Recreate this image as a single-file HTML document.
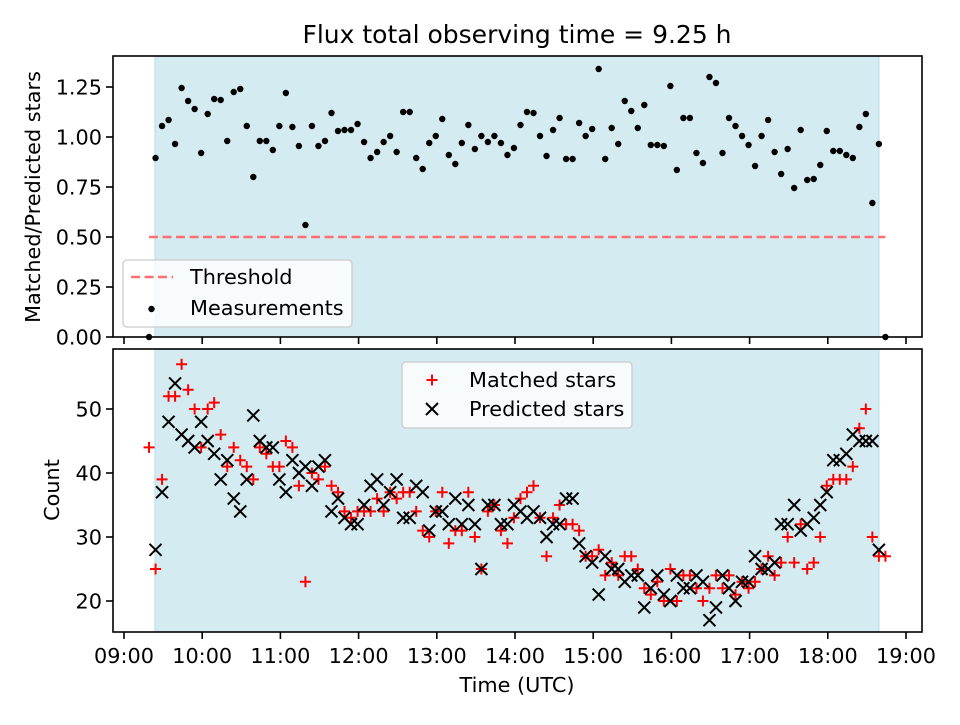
<!DOCTYPE html>
<html><head><meta charset="utf-8"><style>
html,body{margin:0;padding:0;background:#fff}
svg text{font-family:"DejaVu Sans","Liberation Sans",sans-serif;fill:#000}
</style></head><body>
<svg id="chart" width="960" height="720" viewBox="0 0 960 720" xmlns="http://www.w3.org/2000/svg">
<rect width="960" height="720" fill="#fff"/>
<text x="517" y="43" font-size="25" text-anchor="middle">Flux total observing time = 9.25 h</text>
<g id="top"></g>
<g id="bot"></g>
<text transform="translate(40,197) rotate(-90)" font-size="20.8" text-anchor="middle">Matched/Predicted stars</text>
<text transform="translate(59,490) rotate(-90)" font-size="20.8" text-anchor="middle">Count</text>
<text x="517" y="692" font-size="20.8" text-anchor="middle">Time (UTC)</text>
</svg>
<script>
const startHour = 9.32;
const stepHours = 5/60;
const shadeRange = [9.396, 18.655];
const thresholdValue = 0.5;
const xTickLabels = ["09:00","10:00","11:00","12:00","13:00","14:00","15:00","16:00","17:00","18:00","19:00"];
const ratioTicks = [0,0.25,0.5,0.75,1.0,1.25];
const countTicks = [20,30,40,50];
const ratio = [0,0.895,1.055,1.085,0.965,1.245,1.18,1.14,0.92,1.115,1.19,1.185,0.98,1.225,1.24,1.055,0.80,0.98,0.98,0.935,1.055,1.22,1.05,0.955,0.56,1.055,0.955,0.98,1.12,1.03,1.035,1.035,1.065,0.975,0.895,0.925,0.975,1.005,0.925,1.125,1.125,0.895,0.84,0.97,1.005,1.09,0.91,0.865,0.97,1.06,0.94,1.005,0.975,1.005,0.97,0.91,0.945,1.06,1.125,1.12,1.005,0.905,1.035,1.095,0.89,0.89,1.07,1.005,1.04,1.34,0.89,1.045,0.965,1.18,1.13,1.045,1.16,0.96,0.96,0.955,1.255,0.835,1.095,1.095,0.92,0.87,1.30,1.27,0.92,1.095,1.055,1.005,0.96,0.855,1.005,1.085,0.925,0.815,0.94,0.745,1.035,0.785,0.79,0.86,1.03,0.93,0.93,0.91,0.895,1.05,1.115,0.67,0.965,0];
const predicted = [0,28,37,48,54,46,45,44,48,45,43,39,42,36,34,39,49,45,44,44,39,37,42,40,41,38,41,42,34,36,33,32,32,35,38,39,35,37,39,33,33,38,37,31,34,34,32,36,32,35,32,25,35,35,32,32,35,34,33,34,33,30,32,32,36,36,29,27,26,21,27,25,25,23,24,24,19,22,24,21,20,24,22,22,24,23,17,19,24,22,20,23,23,27,25,25,26,32,32,35,31,32,33,35,37,42,42,43,46,45,45,45,28,0];
const matched = [44,25,39,52,52,57,53,50,44,50,51,46,41,44,42,41,39,44,43,41,41,45,44,38,23,40,39,41,38,37,34,33,34,34,34,36,34,37,36,37,37,34,31,30,34,37,29,31,31,37,30,25,34,35,31,29,33,36,37,38,33,27,33,35,32,32,31,27,27,28,24,26,24,27,27,25,22,21,23,20,25,20,24,24,22,20,22,24,22,24,21,23,22,23,25,27,24,26,30,26,32,25,26,30,38,39,39,39,41,47,50,30,27,27];

const NS="http://www.w3.org/2000/svg";
const L=113,R=922;
const FS='20.8';
const x=h=>124+(h-9)*78.2;
const yTop=v=>337-v*200;
const yBot=v=>601-(v-20)*6.4;
const tOf=i=>startHour+i*stepHours;
function mk(tag,attrs,parent){const e=document.createElementNS(NS,tag);for(const k in attrs)e.setAttribute(k,attrs[k]);parent.appendChild(e);return e;}

function panel(g,top,bot,yf,ticks,fmt,showX,name){
  const cid='clip-'+name;
  const cp=mk('clipPath',{id:cid},g);mk('rect',{x:L,y:top,width:R-L,height:bot-top},cp);
  const sh=mk('rect',{x:x(shadeRange[0]),y:top,width:x(shadeRange[1])-x(shadeRange[0]),height:bot-top,fill:'#d4ebf1',stroke:'#b8dce8','stroke-width':1},g);
  
  
  ticks.forEach(v=>{
    const yy=yf(v);
    const t=mk('line',{x1:L-7,x2:L,y1:yy,y2:yy,stroke:'#000','stroke-width':1.6},g);
    
    
    const tx=mk('text',{x:L-11,y:yy+7.5,'font-size':FS,'text-anchor':'end'},g);
    tx.textContent=fmt(v);
    
    
  });
  xTickLabels.forEach((lab,i)=>{
    const xx=x(9+i);
    const t=mk('line',{x1:xx,x2:xx,y1:bot,y2:bot+7,stroke:'#000','stroke-width':1.6},g);
    
    
    if(showX){
      const tx=mk('text',{x:xx,y:bot+31,'font-size':FS,'text-anchor':'middle'},g);
      tx.textContent=lab;
      
      
    }
  });
  const cg=mk('g',{'clip-path':'url(#'+cid+')'},g);
  return cg;
}
function frame(g,top,bot){
  const f=mk('rect',{x:L,y:top,width:R-L,height:bot-top,fill:'none',stroke:'#000','stroke-width':1.6},g);
  
  
}

const gt=document.getElementById('top');
const ct=panel(gt,56,337,yTop,ratioTicks,v=>v.toFixed(2),false,'top');
const th=mk('line',{x1:x(tOf(0)),x2:x(tOf(ratio.length-1)),y1:yTop(thresholdValue),y2:yTop(thresholdValue),stroke:'#ff7070','stroke-width':2.5,'stroke-dasharray':'9,4.5'},ct);


ratio.forEach((v,i)=>{
  const c=mk('circle',{cx:x(tOf(i)),cy:yTop(v),r:3.2,fill:'#000'},gt);
  
  
});
frame(gt,56,337);
const lg=mk('g',{},gt);


mk('rect',{x:123,y:260,width:229,height:67,rx:4,fill:'rgba(255,255,255,0.8)',stroke:'#ccc','stroke-width':1.3},lg);
mk('line',{x1:131,x2:173,y1:277,y2:277,stroke:'#ff7070','stroke-width':2.5,'stroke-dasharray':'9,4.5'},lg);
let t1=mk('text',{x:190,y:284,'font-size':FS},lg);t1.textContent='Threshold';


mk('circle',{cx:151.5,cy:309,r:3.2,fill:'#000'},lg);
let t2=mk('text',{x:190,y:315,'font-size':FS},lg);t2.textContent='Measurements';



const gb=document.getElementById('bot');
const cb=panel(gb,349,632,yBot,countTicks,v=>String(v),true,'bot');
function plus(g,cx,cy){return mk('path',{d:`M${cx-5.5} ${cy}H${cx+5.5}M${cx} ${cy-5.5}V${cy+5.5}`,stroke:'#ff0000','stroke-width':2,fill:'none'},g);}
function cross(g,cx,cy){return mk('path',{d:`M${cx-6} ${cy-6}L${cx+6} ${cy+6}M${cx-6} ${cy+6}L${cx+6} ${cy-6}`,stroke:'#000','stroke-width':2,fill:'none'},g);}
matched.forEach((v,i)=>{
  const p=plus(cb,x(tOf(i)),yBot(v));
  
  
});
predicted.forEach((v,i)=>{
  const p=cross(cb,x(tOf(i)),yBot(v));
  
  
});
frame(gb,349,632);
const lb=mk('g',{},gb);


mk('rect',{x:402,y:362,width:230,height:66,rx:4,fill:'rgba(255,255,255,0.8)',stroke:'#ccc','stroke-width':1.3},lb);
plus(lb,432,380);
let t3=mk('text',{x:469,y:387,'font-size':FS},lb);t3.textContent='Matched stars';


cross(lb,432,409);
let t4=mk('text',{x:469,y:416,'font-size':FS},lb);t4.textContent='Predicted stars';


</script>
</body></html>
